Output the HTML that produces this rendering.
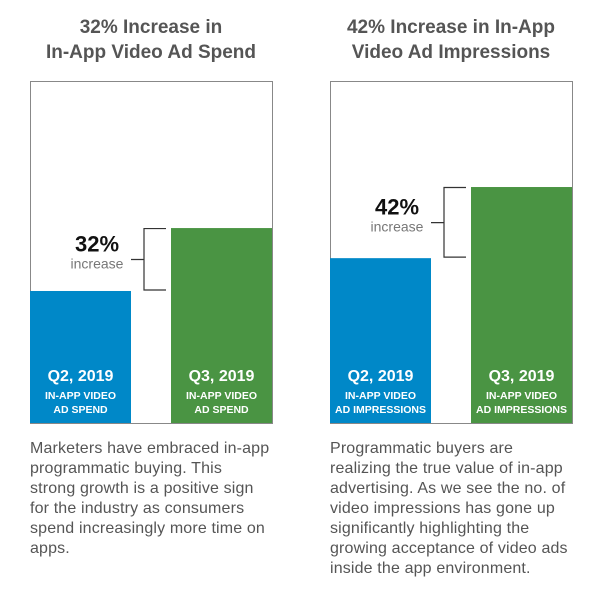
<!DOCTYPE html>
<html><head><meta charset="utf-8"><style>
body{margin:0;width:611px;height:597px;background:#fff;font-family:"Liberation Sans",sans-serif;overflow:hidden}
</style></head><body>
<svg id="c" width="611" height="597">
<text x="151" y="33" text-anchor="middle" font-size="19" font-weight="bold" fill="#555">32% Increase in</text>
<text x="151" y="58" text-anchor="middle" font-size="19" font-weight="bold" fill="#555">In-App Video Ad Spend</text>
<text x="451" y="33" text-anchor="middle" font-size="19" font-weight="bold" fill="#555">42% Increase in In-App</text>
<text x="451" y="58" text-anchor="middle" font-size="19" font-weight="bold" fill="#555">Video Ad Impressions</text>
<g id="marks"></g>
<g font-size="16" letter-spacing="0.15" fill="#555">
<text x="30" y="453">Marketers have embraced in-app</text>
<text x="30" y="473">programmatic buying. This</text>
<text x="30" y="493">strong growth is a positive sign</text>
<text x="30" y="513">for the industry as consumers</text>
<text x="30" y="533">spend increasingly more time on</text>
<text x="30" y="553">apps.</text>
</g>
<g font-size="16" letter-spacing="0.15" fill="#555">
<text x="330" y="453">Programmatic buyers are</text>
<text x="330" y="473">realizing the true value of in-app</text>
<text x="330" y="493">advertising. As we see the no. of</text>
<text x="330" y="513">video impressions has gone up</text>
<text x="330" y="533">significantly highlighting the</text>
<text x="330" y="553">growing acceptance of video ads</text>
<text x="330" y="573">inside the app environment.</text>
</g>
</svg>
<script>
const categories=["Q2, 2019","Q3, 2019"];
const spendValues=[38.6,57];
const impressionValues=[48.2,69];
const increaseLabels=["32%","42%"];
const subLabels=[["IN-APP VIDEO","AD SPEND"],["IN-APP VIDEO","AD IMPRESSIONS"]];
const NS="http://www.w3.org/2000/svg";
const g=document.getElementById('marks');
const top0=81,bottom=423,boxH=bottom-top0;
function y(v){return bottom-v/100*boxH;}
function mk(t,a,p){const e=document.createElementNS(NS,t);for(const k in a)e.setAttribute(k,a[k]);(p||g).appendChild(e);return e;}
const panels=[{x:30,vals:spendValues},{x:330,vals:impressionValues}];
const colors=["#0088c8","#4a9443"];
panels.forEach((p,pi)=>{
  const box=mk('rect',{x:p.x+0.5,y:top0+0.5,width:242,height:boxH,fill:'#fff',stroke:'#888','stroke-width':1});
  
  
  p.vals.forEach((v,i)=>{
    const bx=p.x+i*141;
    const r=mk('rect',{x:bx,y:y(v),width:101,height:bottom-y(v),fill:colors[i]});
    
    
    const t=mk('text',{x:bx+50.5,y:381,'text-anchor':'middle','font-size':16,'font-weight':'bold',fill:'#fff'});
    t.textContent=categories[i];
    
    
    subLabels[pi].forEach((s,k)=>{
      const st=mk('text',{x:bx+50.5,y:399+k*14,'text-anchor':'middle','font-size':10.5,'font-weight':'bold',fill:'#fff'});
      st.textContent=s;
      
      
    });
  });
  const y1=y(p.vals[1]),y0=y(p.vals[0]),bxv=p.x+114,mid=(y0+y1)/2;
  const br=mk('path',{d:`M${bxv+22},${y1+0.5}H${bxv}V${y0-1}H${bxv+22}M${p.x+101},${mid}H${bxv}`,fill:'none',stroke:'#333','stroke-width':1.2});
  
  
  const pt=mk('text',{x:p.x+67,y:mid-8,'text-anchor':'middle','font-size':22,'font-weight':'bold',fill:'#111'});
  pt.textContent=increaseLabels[pi];
  
  
  const it=mk('text',{x:p.x+67,y:mid+9,'text-anchor':'middle','font-size':14,fill:'#777'});
  it.textContent='increase';
  
  
});
</script>
</body></html>
